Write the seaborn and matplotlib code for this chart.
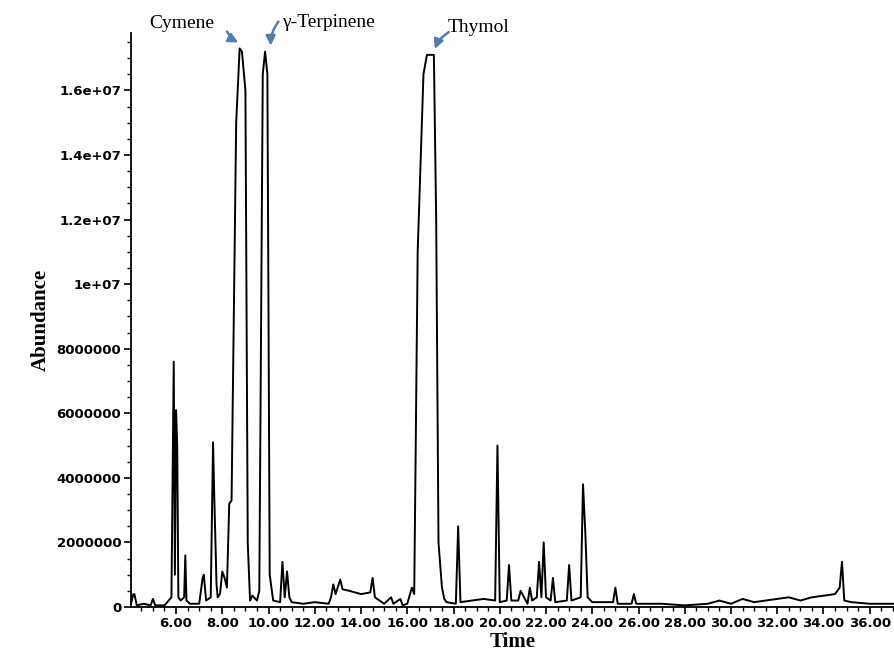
import numpy as np
import pandas as pd
import seaborn as sns
import matplotlib.pyplot as plt
from matplotlib.ticker import MultipleLocator, FuncFormatter

# chromatogram vertices (time in min, abundance)
time = [4.05, 4.15, 4.2, 4.3, 4.6, 4.9, 5.0, 5.1, 5.5, 5.8, 5.9, 5.95, 6.0, 6.05, 6.1, 6.2,
        6.35, 6.4, 6.45, 6.6, 7.0, 7.15, 7.2, 7.3, 7.5, 7.6, 7.65, 7.75, 7.8, 7.9, 8.0, 8.1,
        8.2, 8.3, 8.4, 8.6, 8.75, 8.85, 9.0, 9.1, 9.2, 9.3, 9.5, 9.6, 9.75, 9.85, 9.95, 10.05,
        10.2, 10.5, 10.6, 10.7, 10.8, 10.9, 11.0, 11.5, 12.0, 12.6, 12.7, 12.8, 12.9, 13.1,
        13.2, 13.5, 14.0, 14.4, 14.5, 14.6, 15.0, 15.3, 15.4, 15.7, 15.8, 16.0, 16.2, 16.3,
        16.45, 16.7, 16.85, 17.15, 17.25, 17.35, 17.5, 17.6, 17.7, 18.1, 18.2, 18.3, 18.8,
        19.3, 19.8, 19.9, 20.0, 20.3, 20.4, 20.5, 20.8, 20.9, 21.2, 21.3, 21.4, 21.6, 21.7,
        21.8, 21.9, 22.0, 22.2, 22.3, 22.4, 22.9, 23.0, 23.1, 23.5, 23.6, 23.7, 23.8, 24.0,
        24.9, 25.0, 25.1, 25.7, 25.8, 25.9, 27.0, 28.0, 29.0, 29.5, 30.0, 30.5, 31.0, 31.5,
        32.0, 32.5, 33.0, 33.5, 34.0, 34.5, 34.7, 34.8, 34.9, 35.2, 36.0, 37.05]
abundance = [0.1, 0.4, 0.4, 0.05, 0.1, 0.05, 0.25, 0.05, 0.05, 0.3, 7.6, 1.0, 6.1, 5.0, 0.3, 0.2,
             0.3, 1.6, 0.2, 0.1, 0.1, 0.9, 1.0, 0.2, 0.3, 5.1, 3.5, 0.7, 0.3, 0.4, 1.1, 0.9,
             0.6, 3.2, 3.3, 15.0, 17.3, 17.2, 16.0, 2.0, 0.2, 0.35, 0.2, 0.5, 16.5, 17.2, 16.5, 1.0,
             0.2, 0.15, 1.4, 0.3, 1.1, 0.3, 0.15, 0.1, 0.15, 0.1, 0.3, 0.7, 0.4, 0.85,
             0.55, 0.5, 0.4, 0.45, 0.9, 0.3, 0.1, 0.3, 0.1, 0.25, 0.05, 0.1, 0.6, 0.4,
             11.0, 16.5, 17.1, 17.1, 12.0, 2.0, 0.6, 0.25, 0.15, 0.1, 2.5, 0.15, 0.2,
             0.25, 0.2, 5.0, 0.15, 0.2, 1.3, 0.2, 0.2, 0.5, 0.1, 0.6, 0.2, 0.3, 1.4,
             0.3, 2.0, 0.3, 0.2, 0.9, 0.15, 0.2, 1.3, 0.2, 0.3, 3.8, 2.3, 0.3, 0.15,
             0.15, 0.6, 0.1, 0.1, 0.4, 0.1, 0.1, 0.05, 0.1, 0.2, 0.1, 0.25, 0.15, 0.2,
             0.25, 0.3, 0.2, 0.3, 0.35, 0.4, 0.6, 1.4, 0.2, 0.15, 0.1, 0.1]

labels = ["Cymene", "\u03b3-Terpinene", "Thymol"]
label_xy = [(4.85, 1.78e7), (10.6, 1.785e7), (17.75, 1.77e7)]
arrow_from = [(8.15, 1.79e7), (10.5, 1.82e7), (17.9, 1.785e7)]
arrow_to = [(8.8, 1.745e7), (10.1, 1.73e7), (17.15, 1.72e7)]

df = pd.DataFrame({"Time": time, "Abundance": np.array(abundance) * 1e6})

sns.set_style("ticks")
fig = plt.figure(figsize=(8.94, 6.61), dpi=100)
ax = fig.add_axes([0.1465, 0.0817, 0.8535, 0.868])
sns.lineplot(data=df, x="Time", y="Abundance", ax=ax, color="black", linewidth=1.4,
             estimator=None, sort=False)

ax.set_xlim(4.05, 37.05)
ax.set_ylim(0, 1.777e7)
ax.set_xticks(np.arange(6, 37, 2))
ax.xaxis.set_major_formatter(FuncFormatter(lambda v, p: f"{v:.2f}"))
ax.xaxis.set_minor_locator(MultipleLocator(0.5))
ax.set_yticks(np.arange(0, 1.7e7, 2e6))
ax.yaxis.set_minor_locator(MultipleLocator(5e5))


def yfmt(v, p):
    if v == 0:
        return "0"
    if v < 1e7:
        return f"{v:.0f}"
    if v == 1e7:
        return "1e+07"
    return f"{v:.1e}"


ax.yaxis.set_major_formatter(FuncFormatter(yfmt))
ax.tick_params(axis="both", which="major", labelsize=9.5, length=5, width=1.2,
               colors="black", pad=2)
ax.tick_params(axis="both", which="minor", length=3, width=1, colors="black")
for t in ax.get_xticklabels() + ax.get_yticklabels():
    t.set_fontweight("bold")
ax.spines["right"].set_visible(False)
ax.spines["top"].set_visible(False)
ax.spines["left"].set_linewidth(1.3)
ax.spines["bottom"].set_linewidth(1.3)
ax.spines["left"].set_color("black")
ax.spines["bottom"].set_color("black")

ax.set_xlabel("Time", family="Liberation Serif", fontsize=15, fontweight="bold",
              labelpad=2, color="black")
ax.set_ylabel("Abundance", family="Liberation Serif", fontsize=15, fontweight="bold",
              labelpad=4, color="black")

for txt, (tx, ty) in zip(labels, label_xy):
    ax.text(tx, ty, txt, family="Liberation Serif", fontsize=14, va="bottom",
            color="black", clip_on=False)
for (sx, sy), (axx, ayy) in zip(arrow_from, arrow_to):
    ax.annotate("", xy=(axx, ayy), xytext=(sx, sy), annotation_clip=False,
                arrowprops=dict(arrowstyle="-|>", color="#4f7fb0", lw=1.8,
                                connectionstyle="arc3,rad=0.2", mutation_scale=14))

fig.savefig("out.png", dpi=100)
